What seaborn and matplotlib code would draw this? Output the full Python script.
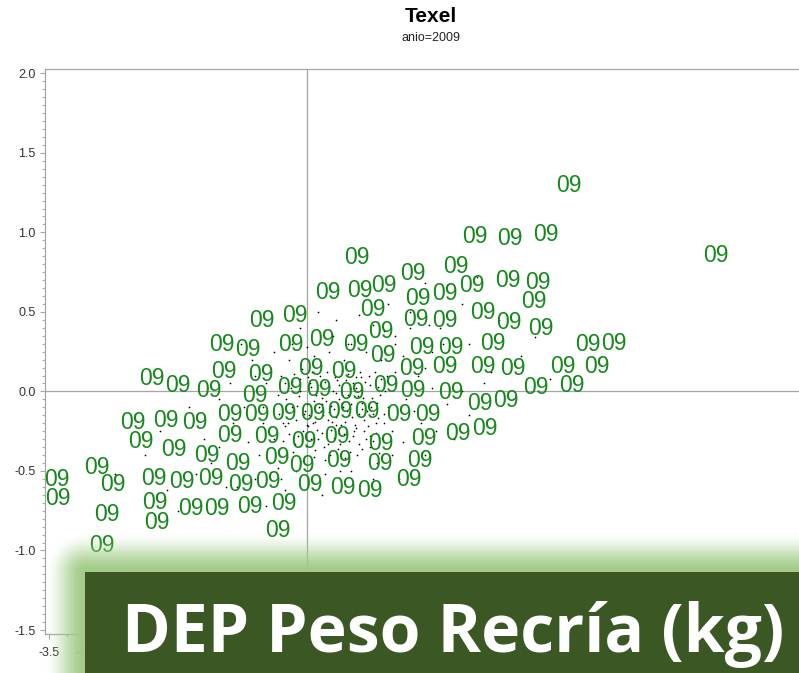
import numpy as np
import matplotlib
matplotlib.use("Agg")
import matplotlib.pyplot as plt
import seaborn as sns
from matplotlib.patches import Rectangle
from matplotlib.ticker import MultipleLocator, FormatStrFormatter, FuncFormatter

# "09" labels (one per animal born in 2009)
label_x = [3.55, 2.28, 2.75, 3.24, 5.55, 0.68, 1.44, 2.02, 0.28, 0.72,
           1.04, 1.51, 1.87, 2.24, 2.73, 3.13, -0.61, -0.16, 0.90, 3.08,
           1.48, 1.87, 2.39, 2.74, 3.18, 1.00, -1.15, -0.80, -0.22, 0.20,
           0.66, 1.03, 1.56, 1.95, 2.52, 3.81, 4.17, -1.13, -0.62, 0.05,
           0.50, -2.10, -1.75, -1.33, -0.71, -0.23, 0.16, 0.61, 1.07, 1.42,
           1.87, 2.39, 2.80, 3.47, 3.93, 1.44, 1.95, 3.11, 3.60, 2.70,
           2.35, -2.36, -1.91, -1.52, -1.04, -0.68, -0.31, 0.08, 0.45, 0.81,
           1.25, 1.64, -2.25, -1.80, -1.04, -0.54, -0.04, 0.41, 1.00, 1.59,
           2.05, 2.42, -1.36, -0.94, -0.41, -0.07, 0.43, 0.99, 1.53, -2.85,
           -3.39, -2.63, -2.08, -1.70, -1.30, -0.90, -0.53, 0.04, 0.49, 0.85,
           1.38, -3.38, -2.06, -1.57, -1.22, -0.77, -0.31, -2.71, -2.04, -0.39, -2.78]
label_y = [1.31, 0.99, 0.98, 1.00, 0.87, 0.86, 0.76, 0.80, 0.64, 0.65,
           0.68, 0.60, 0.63, 0.68, 0.71, 0.70, 0.46, 0.49, 0.53, 0.58,
           0.47, 0.46, 0.51, 0.45, 0.41, 0.39, 0.31, 0.28, 0.31, 0.34,
           0.31, 0.24, 0.29, 0.29, 0.32, 0.31, 0.32, 0.14, 0.12, 0.16,
           0.14, 0.10, 0.05, 0.02, -0.01, 0.04, 0.03, 0.01, 0.05, 0.16,
           0.17, 0.17, 0.16, 0.17, 0.17, 0.02, 0.01, 0.04, 0.05, -0.04,
           -0.06, -0.18, -0.17, -0.18, -0.13, -0.13, -0.12, -0.12, -0.11, -0.11,
           -0.13, -0.13, -0.30, -0.35, -0.26, -0.27, -0.30, -0.27, -0.31, -0.28,
           -0.25, -0.22, -0.39, -0.44, -0.40, -0.45, -0.42, -0.44, -0.42, -0.46,
           -0.54, -0.57, -0.53, -0.55, -0.53, -0.57, -0.55, -0.57, -0.59, -0.61,
           -0.54, -0.66, -0.68, -0.72, -0.72, -0.71, -0.69, -0.76, -0.81, -0.86, -0.95]
label_text = "09"

# background cloud of small dots (other animals)
dot_x = [-0.35, -0.28, -0.22, -0.15, -0.10, -0.05, 0.00, 0.04, 0.08, 0.12, 0.15, 0.18, 0.22, 0.26, 0.30,
         0.33, 0.37, 0.41, 0.45, 0.48, 0.52, 0.56, 0.60, 0.63, 0.67, 0.71, 0.75, 0.79, 0.83, 0.88,
         0.92, 0.97, 1.02, 1.06, 1.10, -0.32, -0.26, -0.19, -0.13, -0.07, -0.02, 0.03, 0.07, 0.11, 0.16,
         0.20, 0.24, 0.28, 0.31, 0.35, 0.39, 0.43, 0.47, 0.50, 0.54, 0.58, 0.62, 0.65, 0.69, 0.73,
         0.77, 0.81, 0.86, 0.90, 0.95, 1.00, 1.04, -0.38, -0.30, -0.24, -0.17, -0.11, -0.04, 0.01, 0.05,
         0.10, 0.14, 0.19, 0.23, 0.27, 0.32, 0.36, 0.40, 0.44, 0.49, 0.53, 0.57, 0.61, 0.66, 0.70,
         0.74, 0.78, 0.84, 0.89, 0.94, 0.99,
         0.6, 0.9, 1.2, 1.3, 1.5, 1.7, 1.8, 2.0, 2.1, 2.2, 2.5, 2.6, 2.9, 3.1, 3.3, 1.1, 1.4, 1.6, 2.3,
         0.4, 0.8, 0.3, 0.5, 1.0, 1.2, 1.35, 1.55, 1.7, 1.9, 2.2, 2.4, 2.8, 1.3, 1.6,
         -0.5, -0.7, -0.9, -1.1, -1.3, -1.5, -1.9, -2.2, -0.6, -0.8, -1.0, -1.2, -1.4, -0.55, -0.75,
         -0.9, -0.45, -0.2, -0.35, -0.15, 0.05, 0.25, 0.6, 0.9, 0.2, -0.55, -1.6, -2.0, -2.6, -0.1,
         0.15, 1.25, 2.0, -1.75, -1.05,
         -0.30, -0.20, -0.12, -0.03, 0.06, 0.13, 0.21, 0.29, 0.38, 0.46, 0.55, 0.64, 0.72, 0.80, 0.87,
         0.96, 1.05, -0.27, -0.16, -0.06, 0.02, 0.09, 0.17, 0.25, 0.34, 0.42, 0.51, 0.59, 0.68, 0.76,
         0.85, 0.93, 1.08, -0.40, -0.33, -0.21, -0.09, 0.00, 0.11, 0.20, 0.30, 0.39, 0.48, 0.57, 0.66,
         0.75, 0.86, 0.98, 1.15, 1.20,
         -0.60, -0.50, -0.45, -0.65, -0.85, -1.20, -0.95, 1.30, 1.45, 1.60, 1.75, 1.20, 1.40, 0.10, 0.35,
         0.55, 0.80, 1.05, 0.00, -0.25, -0.40, 0.95, 1.15, 1.65, 1.85, 2.10, -0.70, -0.30, 0.45, 0.70]
dot_y = [0.10, -0.05, 0.02, -0.18, 0.08, -0.25, -0.08, 0.05, -0.20, -0.02, -0.30, 0.10, -0.15, -0.06, 0.03,
         -0.24, -0.11, 0.07, -0.33, -0.02, -0.19, 0.11, -0.08, -0.28, 0.02, -0.14, -0.36, 0.06, -0.22, -0.04,
         0.12, -0.17, -0.29, 0.00, -0.10, -0.31, -0.20, -0.38, -0.09, 0.14, -0.34, -0.15, 0.12, -0.37, -0.10,
         -0.26, 0.06, -0.18, -0.40, 0.00, -0.16, -0.05, 0.13, -0.27, -0.12, -0.38, 0.05, -0.21, -0.03, 0.09,
         -0.25, -0.12, 0.04, -0.31, -0.07, 0.08, -0.20, -0.14, 0.05, -0.27, 0.11, -0.03, -0.14, 0.09, -0.30,
         -0.06, 0.00, -0.12, -0.35, 0.12, -0.09, -0.29, -0.21, 0.04, -0.10, 0.07, -0.31, -0.16, 0.09, -0.33,
         -0.07, -0.18, 0.10, -0.14, -0.26, -0.02,
         0.30, 0.42, 0.35, 0.22, 0.10, 0.25, 0.40, 0.18, 0.55, 0.30, 0.12, 0.45, 0.22, 0.34, 0.08, 0.55, 0.50, 0.68, 0.72,
         0.45, 0.60, 0.25, 0.20, 0.20, 0.12, -0.05, -0.20, 0.02, -0.08, -0.15, 0.05, -0.05, -0.32, -0.40,
         -0.45, -0.55, -0.48, -0.60, -0.45, -0.52, -0.62, -0.40, -0.20, -0.32, -0.20, -0.05, -0.30, 0.05, 0.20,
         0.30, 0.25, 0.30, -0.55, -0.50, -0.48, -0.52, -0.50, -0.55, -0.65, -0.72, -0.10, -0.25, -0.52, 0.40,
         0.50, -0.55, -0.30, -0.75, 0.05,
         -0.22, 0.06, -0.28, -0.12, 0.03, -0.24, -0.04, -0.33, 0.09, -0.21, -0.02, -0.25, 0.12, -0.30, -0.10,
         0.03, -0.14, -0.41, -0.33, -0.44, -0.22, -0.41, 0.04, -0.43, -0.19, -0.36, -0.42, 0.02, -0.40, -0.04,
         -0.35, -0.20, 0.10, -0.02, -0.20, -0.10, 0.00, -0.21, -0.19, -0.08, -0.13, -0.01, -0.07, -0.15, -0.23,
         -0.11, -0.28, -0.39, -0.25, 0.05,
         -0.10, 0.12, -0.30, -0.40, -0.10, -0.35, -0.60, 0.05, -0.12, 0.15, -0.25, 0.30, 0.40, 0.22, 0.35,
         0.30, 0.25, 0.38, 0.28, 0.20, -0.48, -0.45, -0.40, 0.42, 0.30, 0.00, 0.10, -0.62, -0.50, 0.48]

W, H, DPI = 799, 673, 100
sns.set_theme(style="white")
plt.rcParams["font.family"] = ["Liberation Sans", "DejaVu Sans"]
plt.rcParams["axes.unicode_minus"] = False

fig = plt.figure(figsize=(W / DPI, H / DPI), dpi=DPI)
fig.patch.set_facecolor("white")

# axes frame: left at 44.7px, top 69px, bottom 634px, right beyond the crop
left_px, top_px, bot_px, right_px = 44.7, 69, 634, 840
ax = fig.add_axes([left_px / W, 1 - bot_px / H, (right_px - left_px) / W, (bot_px - top_px) / H])
ax.set_xlim(-3.559, 7.232)
ax.set_ylim(-1.525, 2.027)

grey = "#a6a6a6"
for side in ["left", "top", "bottom", "right"]:
    ax.spines[side].set_color(grey)
    ax.spines[side].set_linewidth(0.9)

ax.axhline(0, color=grey, lw=0.9, zorder=1)
ax.axvline(0, color=grey, lw=0.9, zorder=1)

sns.scatterplot(x=dot_x, y=dot_y, s=1.5, color="black", linewidth=0, ax=ax, zorder=2)
for lx, ly in zip(label_x, label_y):
    ax.text(lx, ly, label_text, color="#14891a", fontsize=16.5, ha="center",
            va="center_baseline", zorder=3)

ax.yaxis.set_major_locator(MultipleLocator(0.5))
ax.yaxis.set_minor_locator(MultipleLocator(0.05))
ax.xaxis.set_major_locator(MultipleLocator(0.5))
ax.xaxis.set_minor_locator(MultipleLocator(0.25))
ax.yaxis.set_major_formatter(FormatStrFormatter("%.1f"))
# only the first two x labels show; the rest sit under the banner
ax.xaxis.set_major_formatter(FuncFormatter(lambda v, p: f"{v:.1f}" if v < -2.9 else ""))
ax.tick_params(axis="both", which="major", direction="out", length=3.5, width=0.8,
               color=grey, labelsize=9, labelcolor="#333333", left=True, bottom=True)
ax.tick_params(axis="both", which="minor", direction="out", length=2, width=0.7,
               color=grey, left=True, bottom=True)
ax.tick_params(axis="y", pad=3)
ax.tick_params(axis="x", pad=6)
ax.set_xlabel("")
ax.set_ylabel("")

fig.text(431 / W, 1 - 16 / H, "Texel", ha="center", va="center", fontsize=15, fontweight="bold", color="black")
fig.text(431 / W, 1 - 38 / H, "anio=2009", ha="center", va="center", fontsize=9, color="#222222")

# overlay: green banner with soft glow
ov = fig.add_axes([0, 0, 1, 1], zorder=10)
ov.set_xlim(0, W)
ov.set_ylim(H, 0)
ov.axis("off")

bx, by = 85, 572
yy, xx = np.mgrid[0:H, 0:W] + 0.5
dx = np.clip(bx - xx, 0, None)
dy = np.clip(by - yy, 0, None)
d = np.sqrt(dx ** 2 + dy ** 2)
t = np.clip(1 - d / 40.0, 0, 1)
alpha = t * t * (3 - 2 * t)
glow = np.zeros((H, W, 4))
glow[..., 0] = 162 / 255
glow[..., 1] = 204 / 255
glow[..., 2] = 136 / 255
glow[..., 3] = alpha
ov.imshow(glow, extent=[0, W, H, 0], aspect="auto", interpolation="bilinear")
ov.add_patch(Rectangle((bx, by), W - bx + 5, H - by + 5, facecolor="#3b5723", edgecolor="none"))
ov.text(122, 652, "DEP Peso Recría (kg)", ha="left", va="baseline", color="white",
        fontsize=47.5, fontweight="bold", family=["Open Sans", "DejaVu Sans"])
ov.set_xlim(0, W)
ov.set_ylim(H, 0)

fig.savefig("out.png", dpi=DPI)
